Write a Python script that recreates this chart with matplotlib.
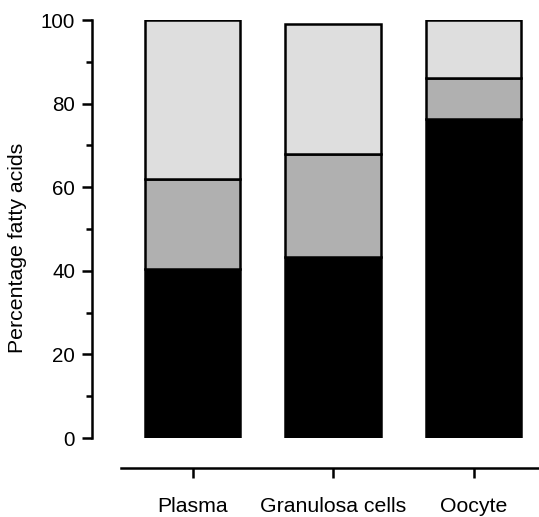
import numpy as np
import matplotlib
matplotlib.use("Agg")
import matplotlib.pyplot as plt

plt.rcParams["font.family"] = ["Liberation Sans", "DejaVu Sans"]

groups = ["Plasma", "Granulosa cells", "Oocyte"]
# stacked segments (percent), bottom to top
seg_black = [40.4, 43.3, 76.3]
seg_mid = [21.6, 24.7, 9.8]
seg_light = [38.0, 31.0, 13.9]

colors = ["#000000", "#b0b0b0", "#dedede"]

fig = plt.figure(figsize=(5.39, 5.17), dpi=100)
ax = fig.add_axes([121 / 539, 79 / 517, 418 / 539, 418 / 517])

x = np.arange(len(groups))
bottom = np.zeros(len(groups))
for vals, c in zip([seg_black, seg_mid, seg_light], colors):
    ax.bar(x, vals, width=0.68, bottom=bottom, color=c,
           edgecolor="black", linewidth=1.8, zorder=3)
    bottom += np.array(vals)

ax.set_xlim(-0.51, 2.465)
ax.set_ylim(0, 100)
ax.set_xticks(x, groups)
ax.set_yticks(np.arange(0, 101, 20))
ax.set_yticks(np.arange(10, 100, 20), minor=True)
ax.tick_params(axis="y", labelsize=14.8, width=1.8, length=7, pad=5)
ax.tick_params(axis="y", which="minor", width=1.8, length=4)
ax.tick_params(axis="x", labelsize=15.3, width=1.8, length=7, pad=14)
ax.set_ylabel("Percentage fatty acids", fontsize=15.3)
ax.yaxis.set_label_coords(-0.226, 0.456)

for s in ["top", "right"]:
    ax.spines[s].set_visible(False)
ax.spines["left"].set_position(("outward", 21))
ax.spines["bottom"].set_position(("outward", 21.5))
ax.spines["left"].set_linewidth(1.8)
ax.spines["bottom"].set_linewidth(1.8)

fig.savefig("out.png", dpi=100)
